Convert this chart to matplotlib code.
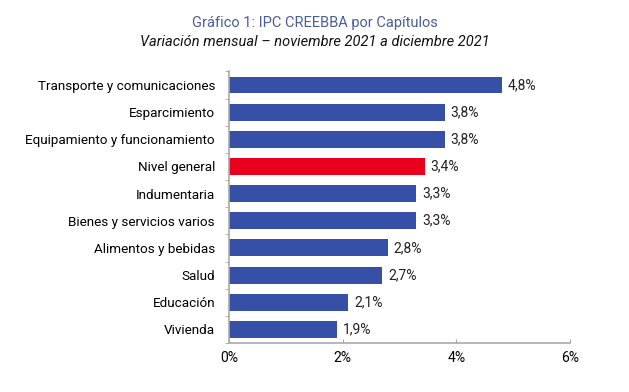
import matplotlib.pyplot as plt
from matplotlib.ticker import FuncFormatter

plt.rcParams['font.family'] = ['Roboto', 'DejaVu Sans']

categorias = ['Transporte y comunicaciones', 'Esparcimiento', 'Equipamiento y funcionamiento',
              'Nivel general', 'Indumentaria', 'Bienes y servicios varios',
              'Alimentos y bebidas', 'Salud', 'Educación', 'Vivienda']
valores = [4.8, 3.8, 3.8, 3.45, 3.3, 3.3, 2.8, 2.7, 2.1, 1.9]
etiquetas = ['4,8%', '3,8%', '3,8%', '3,4%', '3,3%', '3,3%', '2,8%', '2,7%', '2,1%', '1,9%']

azul = '#3650A8'
rojo = '#E8001C'
colores = [rojo if c == 'Nivel general' else azul for c in categorias]

fig = plt.figure(figsize=(6.29, 3.92), dpi=100)
ax = fig.add_axes([0.364, 0.125, 0.542, 0.693])

y = list(range(len(categorias)))[::-1]
ax.barh(y, valores, height=0.62, color=colores)
for yi, v, t in zip(y, valores, etiquetas):
    ax.text(v + 0.1, yi, t, va='center', ha='left', fontsize=10, color='#222222')

ax.set_xlim(0, 6)
ax.set_ylim(-0.5, len(categorias) - 0.5)
ax.set_xticks([0, 2, 4, 6])
ax.xaxis.set_major_formatter(FuncFormatter(lambda v, p: f'{v:.0f}%'))
ax.set_yticks(y)
ax.set_yticklabels(categorias, fontsize=9.7)
ax.set_yticks([i + 0.5 for i in range(-1, len(categorias))], minor=True)
ax.tick_params(axis='y', which='major', length=0, pad=10)
ax.tick_params(axis='y', which='minor', length=3, color='#aaaaaa')
ax.tick_params(axis='x', length=3, direction='in', color='#aaaaaa', labelsize=10, pad=6)
for s in ['top', 'right']:
    ax.spines[s].set_visible(False)
for s in ['left', 'bottom']:
    ax.spines[s].set_color('#aaaaaa')
    ax.spines[s].set_linewidth(1.2)

fig.text(0.5, 0.942, 'Gráfico 1: IPC CREEBBA por Capítulos', ha='center', va='center',
         fontsize=10.5, color='#4A5F9A')
fig.text(0.5, 0.892, 'Variación mensual – noviembre 2021 a diciembre 2021', ha='center',
         va='center', fontsize=10.5, style='italic', color='#111111')

fig.savefig('out.png', dpi=100)
